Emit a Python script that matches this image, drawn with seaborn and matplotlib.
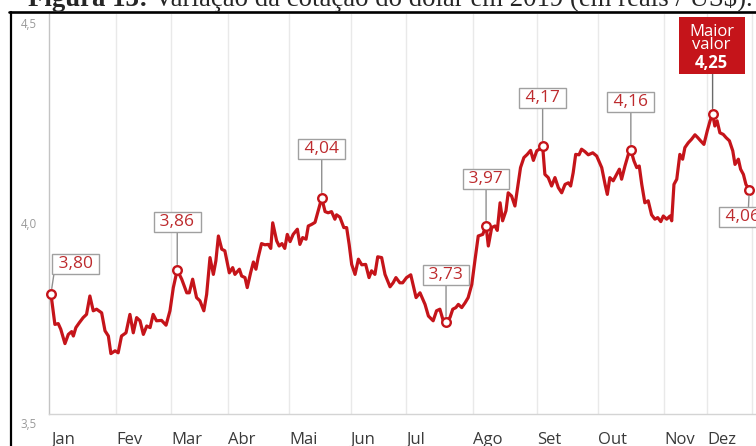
import matplotlib
matplotlib.use("Agg")
import matplotlib.pyplot as plt
from matplotlib.transforms import offset_copy, Affine2D, ScaledTranslation
from matplotlib.lines import Line2D
from matplotlib.patches import Rectangle
from matplotlib.text import Annotation
import seaborn as sns
import pandas as pd

# Cotação do dólar em 2019 (R$ por US$), por pregão
sessao = [
    0.0, 1.4, 2.6, 3.5, 5.0, 6.2, 7.4, 8.0, 8.9, 10.1, 11.5, 12.7, 13.9, 15.1, 16.3,
    18.1, 19.3, 20.5, 21.4, 22.9, 24.0, 25.2, 26.8, 28.2, 29.4, 30.6, 31.8, 33.0,
    34.2, 35.4, 36.5, 37.7, 39.5, 41.1, 42.5, 43.7, 45.1, 46.7, 48.5, 49.4, 50.6,
    52.0, 53.2, 54.6, 55.6, 56.8, 58.0, 58.9, 59.8, 61.0, 62.1, 63.7, 64.9, 65.7,
    67.3, 68.1, 69.3, 70.1, 71.3, 72.3, 73.2, 74.0, 75.2, 76.4, 77.6, 78.5, 79.2,
    80.6, 81.5, 82.5, 83.5, 84.4, 85.4, 86.5, 88.0, 88.9, 89.9, 91.1, 91.9, 93.1,
    94.3, 95.5, 96.7, 97.9, 99.0, 100.2, 101.4, 102.0, 103.2, 104.6, 105.6, 106.5,
    107.4, 108.6, 109.8, 111.0, 112.4, 113.6, 114.5, 115.7, 116.7, 118.1, 119.3,
    121.1, 122.2, 123.2, 124.6, 125.6, 127.0, 128.5, 130.4, 131.8, 133.6, 134.8,
    136.5, 137.7, 138.9, 140.1, 141.1, 142.5, 143.5, 144.6, 145.5, 146.7, 147.9,
    149.0, 150.3, 151.4, 152.6, 154.2, 155.4, 156.2, 157.4, 158.6, 159.4, 160.4,
    161.3, 162.5, 163.3, 164.5, 165.7, 166.9, 167.7, 168.9, 170.1, 171.3, 172.3,
    173.5, 174.9, 175.6, 176.4, 177.6, 178.8, 180.0, 181.2, 182.4, 183.6, 184.8,
    185.6, 186.5, 187.4, 188.6, 189.5, 190.7, 191.9, 193.5, 194.9, 196.7, 197.9,
    198.7, 199.6, 200.8, 202.0, 203.0, 203.8, 205.0, 206.2, 207.1, 208.2, 209.2,
    210.1, 211.0, 212.1, 213.3, 214.5, 215.7, 216.7, 217.8, 218.7, 219.9, 221.1,
    221.7, 222.5, 223.5, 224.6, 225.6, 226.4, 227.6, 228.8, 230.0, 231.0, 232.0,
    233.2, 234.4, 235.4, 236.3, 237.1, 237.9, 238.9, 240.1, 241.1, 242.3, 243.5,
    244.3, 245.5, 246.3, 247.3, 248.2, 249.4,
]
cotacao = [
    3.800, 3.724, 3.726, 3.712, 3.676, 3.699, 3.706, 3.695, 3.716, 3.728, 3.741,
    3.749, 3.795, 3.758, 3.762, 3.753, 3.708, 3.695, 3.651, 3.658, 3.653, 3.695,
    3.703, 3.749, 3.703, 3.741, 3.733, 3.699, 3.720, 3.716, 3.749, 3.733, 3.734,
    3.722, 3.758, 3.816, 3.860, 3.837, 3.803, 3.803, 3.837, 3.791, 3.783, 3.758,
    3.799, 3.891, 3.849, 3.883, 3.945, 3.912, 3.908, 3.853, 3.866, 3.849, 3.862,
    3.845, 3.841, 3.816, 3.853, 3.880, 3.862, 3.891, 3.926, 3.923, 3.924, 3.914,
    3.978, 3.933, 3.920, 3.926, 3.914, 3.949, 3.931, 3.949, 3.962, 3.924, 3.941,
    3.937, 3.970, 3.974, 3.979, 4.009, 4.040, 4.006, 4.003, 4.006, 3.987, 3.998,
    3.992, 3.966, 3.966, 3.924, 3.874, 3.849, 3.887, 3.873, 3.874, 3.841, 3.858,
    3.849, 3.893, 3.891, 3.849, 3.818, 3.828, 3.841, 3.828, 3.828, 3.841, 3.848,
    3.791, 3.803, 3.774, 3.745, 3.733, 3.758, 3.762, 3.733, 3.730, 3.741, 3.762,
    3.766, 3.774, 3.766, 3.778, 3.791, 3.824, 3.883, 3.945, 3.949, 3.970, 3.920,
    3.966, 3.970, 3.959, 4.028, 3.983, 4.008, 4.053, 4.045, 4.020, 4.078, 4.116,
    4.141, 4.149, 4.159, 4.134, 4.158, 4.164, 4.170, 4.099, 4.091, 4.070, 4.091,
    4.066, 4.053, 4.074, 4.078, 4.070, 4.103, 4.149, 4.148, 4.162, 4.156, 4.148,
    4.153, 4.145, 4.116, 4.074, 4.049, 4.091, 4.083, 4.099, 4.112, 4.087, 4.120,
    4.149, 4.160, 4.133, 4.116, 4.120, 4.074, 4.028, 4.033, 3.998, 3.987, 3.991,
    3.981, 3.995, 3.987, 3.995, 3.983, 4.074, 4.087, 4.149, 4.137, 4.166, 4.178,
    4.187, 4.198, 4.191, 4.183, 4.174, 4.208, 4.233, 4.250, 4.220, 4.233, 4.203,
    4.199, 4.191, 4.183, 4.158, 4.124, 4.137, 4.112, 4.099, 4.074, 4.060,
]

meses = ["Jan", "Fev", "Mar", "Abr", "Mai", "Jun", "Jul", "Ago", "Set", "Out", "Nov", "Dez"]
inicio_mes = [0.0, 23.2, 42.9, 63.2, 85.0, 107.1, 126.8, 150.7, 173.6, 195.4, 219.0, 234.3]
fim_do_ano = 250.4

valores_eixo_y = [3.5, 4.0, 4.5]

# pregões que recebem etiqueta com o valor
sessoes_destaque = [0.0, 45.1, 96.7, 141.1, 155.4, 175.6, 207.1, 249.4]
sessao_maior = 236.3

VERMELHO = "#c5141a"
TEXTO_VERMELHO = "#bd2b2e"

sns.set_style("white")
plt.rcParams["font.family"] = ["Open Sans", "DejaVu Sans"]

df = pd.DataFrame({"sessao": sessao, "cotacao": cotacao})
valor_em = dict(zip(sessao, cotacao))

W, H = 756, 446
fig = plt.figure(figsize=(W / 100, H / 100), dpi=100)
ax = fig.add_axes([49 / W, 32 / H, 1 - 49 / W, 400 / H])

sns.lineplot(data=df, x="sessao", y="cotacao", color=VERMELHO, linewidth=2.3,
             ax=ax, zorder=3, solid_joinstyle="round")

ax.set_xlim(-0.7, 251.8)
ax.set_ylim(3.5, 4.5)
ax.set_xlabel("")
ax.set_ylabel("")

for s in ["top", "right"]:
    ax.spines[s].set_visible(False)
ax.spines["left"].set_color("#c4c4c4")
ax.spines["bottom"].set_color("#d4d4d4")
ax.spines["left"].set_linewidth(1.0)
ax.spines["bottom"].set_linewidth(1.0)

# meses: grade vertical e rótulos alinhados ao início de cada mês
ax.set_xticks(inicio_mes[1:] + [fim_do_ano])
ax.set_xticklabels([])
ax.tick_params(axis="x", length=0)
ax.grid(axis="x", color="#e9e9e9", linewidth=1.0, zorder=0)
ax.grid(axis="y", visible=False)
rot_x = offset_copy(ax.get_xaxis_transform(), fig=fig, x=0, y=-30, units="dots")
for m, x0 in zip(meses, inicio_mes):
    ax.text(x0, 0, m, transform=rot_x, ha="left", va="baseline",
            fontsize=12, color="#3a3a3a", clip_on=False)

# eixo y: rótulos discretos logo abaixo de cada valor
ax.set_yticks([])
rot_y = offset_copy(ax.get_yaxis_transform(), fig=fig, x=-12, y=-11, units="dots")
for v in valores_eixo_y:
    ax.text(0, v, f"{v:.1f}".replace(".", ","), transform=rot_y, ha="right",
            va="center", fontsize=8.3, color="#9a9a9a", clip_on=False)

def fmt(v):
    return f"{v:.2f}".replace(".", ",")

# etiquetas: deslocamento (px) do centro da caixa e ponto de saída da haste
layout_etiquetas = [
    ((25, 30), (0.0, 0.0)),
    ((0, 48), (0.5, 0.0)),
    ((0, 49), (0.5, 0.0)),
    ((0, 47), (0.5, 0.0)),
    ((0, 47), (0.5, 0.0)),
    ((0, 48), (0.5, 0.0)),
    ((0, 48), (0.5, 0.0)),
    ((-7, -27), (0.64, 1.0)),
]
caixa = dict(boxstyle="square,pad=0.1", fc="white", ec="#a0a0a0", lw=1.0)
for s, (desl, rel) in zip(sessoes_destaque, layout_etiquetas):
    v = valor_em[s]
    ax.annotate(f" {fmt(v)} ", xy=(s, v), xytext=desl, textcoords="offset pixels",
                ha="center", va="center", fontsize=12.5, color=TEXTO_VERMELHO,
                bbox=caixa, annotation_clip=False, zorder=5,
                arrowprops=dict(arrowstyle="-", color="#8f8f8f", lw=1.0,
                                shrinkA=0, shrinkB=4, relpos=rel))

# maior valor do ano: caixa vermelha em pixels acima do ponto
v_max = valor_em[sessao_maior]
em_pixels = Affine2D() + ScaledTranslation(sessao_maior, v_max, ax.transData)
ax.add_patch(Rectangle((-34, 40), 66, 57, transform=em_pixels, fc=VERMELHO,
                       ec="none", zorder=6, clip_on=False))
ax.annotate("", xy=(sessao_maior, v_max), xytext=(0, 40), textcoords="offset pixels",
            annotation_clip=False, zorder=5,
            arrowprops=dict(arrowstyle="-", color="#6a6a6a", lw=1.0,
                            shrinkA=0, shrinkB=4))
ax.annotate("Maior\nvalor", xy=(sessao_maior, v_max), xytext=(-1, 65),
            textcoords="offset pixels", ha="center", va="baseline",
            fontsize=12, linespacing=0.72, color="white", zorder=7,
            annotation_clip=False)
ax.annotate(fmt(v_max), xy=(sessao_maior, v_max), xytext=(-1, 46.5),
            textcoords="offset pixels", ha="center", va="baseline",
            fontsize=12, fontweight="bold", color="white", zorder=7,
            annotation_clip=False)

# pontos destacados
pontos = sessoes_destaque + [sessao_maior]
ax.plot(pontos, [valor_em[s] for s in pontos], linestyle="none", marker="o",
        ms=6.2, mfc="white", mec=VERMELHO, mew=1.7, zorder=4, clip_on=False)

# moldura e legenda da figura
fig.add_artist(Line2D([9 / W, 1], [1 - 12 / H, 1 - 12 / H], color="black", lw=1.9))
fig.add_artist(Line2D([10.5 / W, 10.5 / W], [0, 1 - 12 / H], color="black", lw=1.6))

t1 = fig.text(28 / W, 1 - 6.5 / H, "Figura 13:", fontfamily="Liberation Serif",
              fontweight="bold", fontsize=19.3, va="baseline", ha="left")
fig.add_artist(Annotation(
    " Variação da cotação do dólar em 2019 (em reais / US$).", xy=(1, 0),
    xycoords=t1, va="bottom", ha="left", fontfamily="Liberation Serif",
    fontsize=19.3))

fig.savefig("out.png", dpi=100)
